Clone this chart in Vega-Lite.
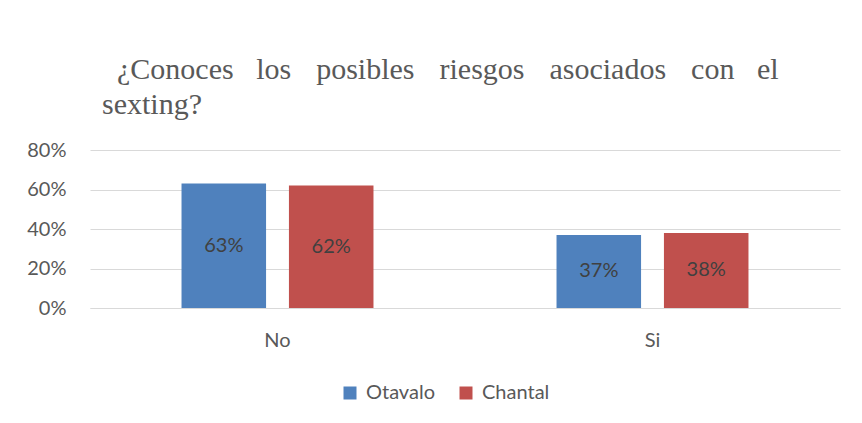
{
  "$schema": "https://vega.github.io/schema/vega-lite/v6.json",
  "autosize": "none",
  "width": 750,
  "height": 158,
  "padding": {"left": 90, "top": 150, "right": 22, "bottom": 115},
  "background": "white",
  "title": {
    "text": ["\u200b\u00a0\u00a0¿Conoces\u00a0\u00a0\u00a0los\u00a0\u00a0\u00a0\u200aposibles\u00a0\u00a0\u00a0\u200ariesgos\u00a0\u00a0\u00a0\u200aasociados\u00a0\u00a0\u00a0\u200acon\u00a0\u00a0\u00a0el", "sexting?"],
    "anchor": "start",
    "frame": "group",
    "dx": 12,
    "offset": 20,
    "font": "Liberation Serif",
    "fontSize": 30,
    "fontWeight": "normal",
    "color": "#595959",
    "lineHeight": 35
  },
  "data": {
    "values": [
      {"respuesta": "No", "lugar": "Otavalo", "valor": 0.63},
      {"respuesta": "No", "lugar": "Chantal", "valor": 0.62},
      {"respuesta": "Si", "lugar": "Otavalo", "valor": 0.37},
      {"respuesta": "Si", "lugar": "Chantal", "valor": 0.38}
    ]
  },
  "transform": [{"calculate": "datum.valor / 2", "as": "mitad"}],
  "encoding": {
    "x": {
      "field": "respuesta",
      "type": "nominal",
      "sort": ["No", "Si"],
      "scale": {"paddingInner": 0, "paddingOuter": 0},
      "axis": {
        "title": null,
        "labelAngle": 0,
        "ticks": false,
        "domain": true,
        "domainColor": "#d9d9d9",
        "domainWidth": 1.2,
        "labelFont": "Lato",
        "labelFontSize": 20,
        "labelColor": "#595959",
        "labelPadding": 22
      }
    },
    "xOffset": {
      "field": "lugar",
      "type": "nominal",
      "sort": ["Otavalo", "Chantal"],
      "scale": {"paddingInner": 0.213, "paddingOuter": 0.852}
    }
  },
  "layer": [
    {
      "mark": {"type": "bar"},
      "encoding": {
        "y": {
          "field": "valor",
          "type": "quantitative",
          "scale": {"domain": [0, 0.8]},
          "axis": {
            "title": null,
            "values": [0, 0.2, 0.4, 0.6, 0.8],
            "format": ".0%",
            "labelOverlap": false,
            "ticks": false,
            "domain": false,
            "gridColor": "#d9d9d9",
            "gridWidth": 1.2,
            "labelFont": "Lato",
            "labelFontSize": 20,
            "labelColor": "#595959",
            "labelPadding": 24
          }
        },
        "color": {
          "field": "lugar",
          "type": "nominal",
          "sort": ["Otavalo", "Chantal"],
          "scale": {"domain": ["Otavalo", "Chantal"], "range": ["#4F81BD", "#C0504D"]},
          "legend": {
            "title": null,
            "orient": "none",
            "legendX": 250,
            "legendY": 233,
            "direction": "horizontal",
            "symbolType": "square",
            "symbolSize": 169,
            "symbolStrokeWidth": 0,
            "labelFont": "Lato",
            "labelFontSize": 20,
            "labelColor": "#595959",
            "labelOffset": 6,
            "columnPadding": 21
          }
        }
      }
    },
    {
      "mark": {"type": "text", "font": "Lato", "fontSize": 20, "color": "#404040", "baseline": "middle"},
      "encoding": {
        "y": {
          "field": "mitad",
          "type": "quantitative",
          "axis": {
            "title": null,
            "values": [0, 0.2, 0.4, 0.6, 0.8],
            "format": ".0%",
            "labelOverlap": false,
            "ticks": false,
            "domain": false,
            "gridColor": "#d9d9d9",
            "gridWidth": 1.2,
            "labelFont": "Lato",
            "labelFontSize": 20,
            "labelColor": "#595959",
            "labelPadding": 24
          }
        },
        "text": {"field": "valor", "type": "quantitative", "format": ".0%"}
      }
    }
  ],
  "config": {
    "view": {"stroke": null}
  }
}
